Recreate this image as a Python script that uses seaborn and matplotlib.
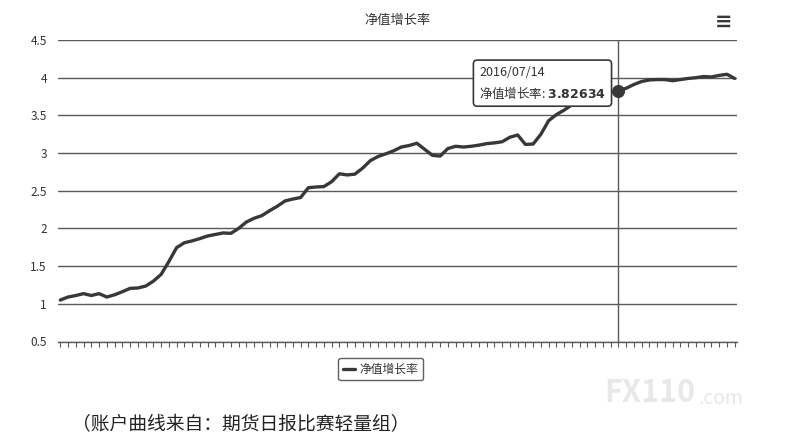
import numpy as np
import pandas as pd
import matplotlib
matplotlib.use("Agg")
import matplotlib.pyplot as plt
import seaborn as sns

# --- DATA ---
SERIES_NAME = "净值增长率"
NET_VALUE_GROWTH = [
    1.05, 1.09, 1.11, 1.135, 1.11, 1.135, 1.09, 1.12, 1.16, 1.205,
    1.21, 1.235, 1.30, 1.39, 1.56, 1.745, 1.81, 1.835, 1.865, 1.90,
    1.92, 1.94, 1.935, 2.00, 2.085, 2.135, 2.17, 2.235, 2.295, 2.365,
    2.39, 2.41, 2.54, 2.55, 2.555, 2.62, 2.725, 2.71, 2.72, 2.80,
    2.90, 2.955, 2.99, 3.03, 3.08, 3.10, 3.13, 3.05, 2.97, 2.96,
    3.06, 3.09, 3.08, 3.09, 3.105, 3.125, 3.135, 3.15, 3.21, 3.24,
    3.115, 3.12, 3.25, 3.43, 3.51, 3.57, 3.64, 3.70, 3.74, 3.77,
    3.795, 3.81, 3.82634, 3.86, 3.91, 3.95, 3.97, 3.975, 3.975, 3.96,
    3.975, 3.99, 4.00, 4.015, 4.01, 4.03, 4.045, 3.99,
]
HOVER_INDEX = 72
HOVER_DATE = "2016/07/14"
Y_TICKS = [0.5, 1, 1.5, 2, 2.5, 3, 3.5, 4, 4.5]
Y_TICK_LABELS = ["0.5", "1", "1.5", "2", "2.5", "3", "3.5", "4", "4.5"]
CAPTION = "（账户曲线来自：期货日报比赛轻量组）"
WATERMARK = "FX110"
WATERMARK_SUFFIX = ".com"

LINE_COLOR = "#383838"
GRID_COLOR = "#5a5a5a"
TEXT_COLOR = "#333333"

df = pd.DataFrame({"idx": np.arange(len(NET_VALUE_GROWTH)), SERIES_NAME: NET_VALUE_GROWTH})

sns.set_theme(style="white")
plt.rcParams["font.family"] = ["Noto Sans CJK SC", "DejaVu Sans"]

fig = plt.figure(figsize=(7.87, 4.45), dpi=100)
ax = fig.add_axes([58 / 787, 1 - 341.5 / 445, (737 - 58) / 787, (341.5 - 40) / 445])

sns.lineplot(data=df, x="idx", y=SERIES_NAME, ax=ax, color=LINE_COLOR,
             linewidth=2.4, label=SERIES_NAME, zorder=3)

# hovered point + crosshair
hx = df["idx"].iloc[HOVER_INDEX]
hy = df[SERIES_NAME].iloc[HOVER_INDEX]
ax.axvline(hx, color=GRID_COLOR, linewidth=1.0, zorder=2)
ax.scatter([hx], [hy], s=70, color=LINE_COLOR, zorder=5)

ax.set_xlim(-0.3, len(NET_VALUE_GROWTH) - 0.7)
ax.set_ylim(0.5, 4.5)
ax.set_yticks(Y_TICKS)
ax.set_yticklabels(Y_TICK_LABELS)
ax.set_xticks(df["idx"])
ax.set_xticklabels([])
ax.set_xlabel("")
ax.set_ylabel("")
ax.yaxis.grid(True, color=GRID_COLOR, linewidth=1.0)
ax.set_axisbelow(True)
ax.tick_params(axis="y", left=False, length=0, pad=8, labelsize=8.5, labelcolor=TEXT_COLOR)
ax.tick_params(axis="x", bottom=True, length=3.5, width=0.8, color=GRID_COLOR,
               direction="out", pad=0)
for side in ["top", "right", "left"]:
    ax.spines[side].set_visible(False)
ax.spines["bottom"].set_color(GRID_COLOR)
ax.spines["bottom"].set_linewidth(1.0)

# tooltip box (left of the hovered point)
tip = f"{HOVER_DATE}\n{SERIES_NAME}: " + r"$\bf{" + f"{hy:.5f}" + "}$"
ax.annotate(tip, xy=(hx, hy), xytext=(-9, 5.5), textcoords="offset points",
            ha="right", va="center", multialignment="left", fontsize=9,
            color=TEXT_COLOR, linespacing=1.45,
            bbox=dict(boxstyle="round,pad=0.45,rounding_size=0.3", fc="white",
                      ec=LINE_COLOR, lw=1.2), zorder=4)

# title and menu icon
fig.text(0.505, 1 - 20 / 445, SERIES_NAME, ha="center", va="center",
         fontsize=9.5, color=TEXT_COLOR)
fig.text(724 / 787, 1 - 22 / 445, "≡", ha="center", va="center",
         fontsize=15, fontweight="bold", color=LINE_COLOR, family="DejaVu Sans")

# legend
leg = ax.legend(loc="upper center", bbox_to_anchor=(0.475, -0.035), frameon=True,
                fancybox=True, fontsize=8.5, handlelength=1.0, handletextpad=0.4,
                borderpad=0.4, labelcolor=TEXT_COLOR)
leg.get_frame().set_edgecolor(LINE_COLOR)
leg.get_frame().set_linewidth(1.0)

# watermark and caption
fig.text(604 / 787, 1 - 393 / 445, WATERMARK, ha="left", va="center",
         fontsize=22, fontweight="bold", color="#e8e8e8")
fig.text(699 / 787, 1 - 398 / 445, WATERMARK_SUFFIX, ha="left", va="center",
         fontsize=14, color="#e8e8e8")
fig.text(72 / 787, 1 - 425 / 445, CAPTION, ha="left", va="center",
         fontsize=13.5, color="#222222")

fig.savefig("out.png", dpi=100)
